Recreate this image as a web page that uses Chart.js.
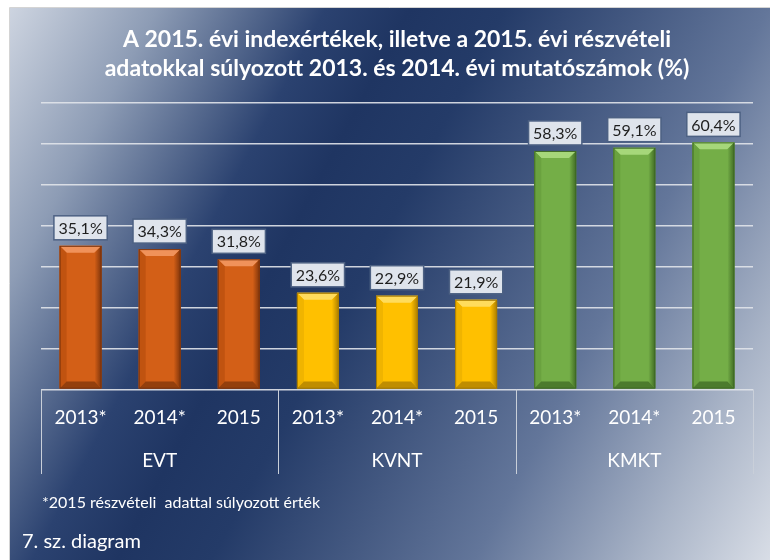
<!DOCTYPE html>
<html>
<head>
<meta charset="utf-8">
<script src="https://cdn.jsdelivr.net/npm/chart.js@4"></script>
<style>
  html, body { margin: 0; padding: 0; background: #ffffff; }
  #wrap { width: 770px; height: 560px; position: relative; }
</style>
</head>
<body>
<div id="wrap"><canvas id="c" width="770" height="560"></canvas></div>
<script>
// ---- data ----
const groups = ['EVT', 'KVNT', 'KMKT'];
const years = ['2013*', '2014*', '2015'];
const evtValues = [35.1, 34.3, 31.8];
const kvntValues = [23.6, 22.9, 21.9];
const kmktValues = [58.3, 59.1, 60.4];
const yTicks = [0, 10, 20, 30, 40, 50, 60, 70];
const titleLines = ['A 2015. évi indexértékek, illetve a 2015. évi részvételi',
                    'adatokkal súlyozott 2013. és 2014. évi mutatószámok (%)'];
const footnote = '*2015 részvételi  adattal súlyozott érték';
const diagramLabel = '7. sz. diagram';

// ---- styles ----
const palette = {
  EVT:  { main: '#d35f17', light: '#f0925a', dark: '#7e340b', side: '#c05310' },
  KVNT: { main: '#ffc000', light: '#ffdc5c', dark: '#a97c00', side: '#f0b400' },
  KMKT: { main: '#74ae47', light: '#a6d77a', dark: '#3f6a24', side: '#6aa23f' }
};
const FONT = 'Lato, "Open Sans", "Liberation Sans", sans-serif';

const groupValues = [evtValues, kvntValues, kmktValues];
const labels = [];
const values = [];
const colorSets = [];
groups.forEach((g, gi) => {
  years.forEach((y, yi) => {
    labels.push(y);
    values.push(groupValues[gi][yi]);
    colorSets.push(palette[g]);
  });
});

const fmt = v => v.toFixed(1).replace('.', ',') + '%';

const bgPlugin = {
  id: 'bg',
  beforeDraw(chart) {
    const ctx = chart.ctx;
    const W = chart.width, H = chart.height;
    ctx.save();
    ctx.fillStyle = '#ffffff';
    ctx.fillRect(0, 0, W, H);
    const x0 = 10, y0 = 8;
    const ang = 28 * Math.PI / 180;
    const L = (W - x0) * Math.cos(ang) + (H - y0) * Math.sin(ang);
    const g = ctx.createLinearGradient(x0, y0, x0 + L * Math.cos(ang), y0 + L * Math.sin(ang));
    g.addColorStop(0.0, '#cdd4e0');
    g.addColorStop(0.14, '#8d9cb5');
    g.addColorStop(0.30, '#2b4270');
    g.addColorStop(0.38, '#1f3562');
    g.addColorStop(0.47, '#243b68');
    g.addColorStop(0.72, '#63769a');
    g.addColorStop(0.88, '#a9b4c7');
    g.addColorStop(1.0, '#d8dde6');
    ctx.fillStyle = g;
    ctx.fillRect(x0, y0, W - x0, H - y0);
    ctx.strokeStyle = '#d4d4d4';
    ctx.lineWidth = 1;
    ctx.beginPath();
    ctx.moveTo(x0 - 0.5, H);
    ctx.lineTo(x0 - 0.5, y0 - 0.5);
    ctx.lineTo(W, y0 - 0.5);
    ctx.stroke();
    ctx.restore();
  }
};

const bevelPlugin = {
  id: 'bevel',
  afterDatasetsDraw(chart) {
    const ctx = chart.ctx;
    const meta = chart.getDatasetMeta(0);
    meta.data.forEach((bar, i) => {
      const c = colorSets[i];
      const p = bar.getProps(['x', 'y', 'base', 'width'], true);
      const l = p.x - p.width / 2, r = p.x + p.width / 2;
      const t = p.y, b = p.base;
      const bv = 7;
      ctx.save();
      // top bevel
      ctx.fillStyle = c.light;
      ctx.beginPath();
      ctx.moveTo(l, t); ctx.lineTo(r, t); ctx.lineTo(r - bv, t + bv); ctx.lineTo(l + bv, t + bv); ctx.closePath(); ctx.fill();
      // right bevel
      const gr = ctx.createLinearGradient(r - bv, 0, r, 0);
      gr.addColorStop(0, c.main);
      gr.addColorStop(1, c.dark);
      ctx.fillStyle = gr;
      ctx.beginPath();
      ctx.moveTo(r, t); ctx.lineTo(r, b); ctx.lineTo(r - bv, b - bv); ctx.lineTo(r - bv, t + bv); ctx.closePath(); ctx.fill();
      // left bevel
      ctx.fillStyle = c.side;
      ctx.beginPath();
      ctx.moveTo(l, t); ctx.lineTo(l + bv, t + bv); ctx.lineTo(l + bv, b - bv); ctx.lineTo(l, b); ctx.closePath(); ctx.fill();
      // bottom bevel
      ctx.fillStyle = c.dark;
      ctx.globalAlpha = 0.75;
      ctx.beginPath();
      ctx.moveTo(l, b); ctx.lineTo(l + bv, b - bv); ctx.lineTo(r - bv, b - bv); ctx.lineTo(r, b); ctx.closePath(); ctx.fill();
      ctx.globalAlpha = 1;
      // outline
      ctx.strokeStyle = c.dark;
      ctx.lineWidth = 1;
      ctx.strokeRect(l + 0.5, t + 0.5, r - l - 1, b - t - 1);
      ctx.restore();

      // value label box
      const txt = fmt(values[i]);
      ctx.save();
      ctx.font = '16px ' + FONT;
      const tw = ctx.measureText(txt).width;
      const bw = tw + 9, bh = 24;
      const bx = p.x - bw / 2, by = t - 6 - bh;
      ctx.fillStyle = '#dfe4ec';
      ctx.fillRect(bx, by, bw, bh);
      ctx.strokeStyle = '#4d6183';
      ctx.lineWidth = 1.5;
      ctx.strokeRect(bx, by, bw, bh);
      ctx.fillStyle = '#1e1e1e';
      ctx.textAlign = 'center';
      ctx.textBaseline = 'middle';
      ctx.fillText(txt, p.x, by + bh / 2 + 1);
      ctx.restore();
    });
  }
};

const sepPlugin = {
  id: 'sep',
  afterDraw(chart) {
    const ctx = chart.ctx;
    const xs = chart.scales.x, x2 = chart.scales.x2;
    const n = years.length;
    const bounds = [];
    for (let k = 0; k <= labels.length; k += n) {
      let px;
      if (k === 0) px = xs.left;
      else if (k === labels.length) px = xs.right;
      else px = (xs.getPixelForValue(k - 1) + xs.getPixelForValue(k)) / 2;
      bounds.push(px);
    }
    ctx.save();
    ctx.strokeStyle = '#c9cfd9';
    ctx.lineWidth = 1;
    bounds.forEach(px => {
      const xx = Math.round(px) + 0.5;
      ctx.beginPath();
      ctx.moveTo(xx, chart.chartArea.bottom);
      ctx.lineTo(xx, x2.bottom);
      ctx.stroke();
    });
    // footnotes
    ctx.fillStyle = '#ffffff';
    ctx.textBaseline = 'middle';
    ctx.textAlign = 'left';
    ctx.font = '16px ' + FONT;
    ctx.fillText(footnote, 42, 503);
    ctx.font = '20px ' + FONT;
    ctx.fillText(diagramLabel, 22, 542);
    ctx.restore();
  }
};

new Chart(document.getElementById('c'), {
  type: 'bar',
  data: {
    labels: labels,
    datasets: [{
      data: values,
      backgroundColor: colorSets.map(c => c.main),
      borderWidth: 0,
      barPercentage: 0.53,
      categoryPercentage: 1.0
    }]
  },
  plugins: [bgPlugin, bevelPlugin, sepPlugin],
  options: {
    responsive: false,
    animation: false,
    layout: { padding: { left: 41, right: 17, top: 0, bottom: 86 } },
    plugins: {
      legend: { display: false },
      tooltip: { enabled: false },
      title: {
        display: true,
        text: titleLines,
        color: '#ffffff',
        font: { family: FONT, size: 23, weight: 'bold', lineHeight: 1.22 },
        padding: { top: 26, bottom: 21 }
      }
    },
    scales: {
      y: {
        min: yTicks[0],
        max: yTicks[yTicks.length - 1],
        afterBuildTicks: s => { s.ticks = yTicks.map(v => ({ value: v })); },
        ticks: { display: false },
        grid: { color: 'rgba(225,228,234,0.9)', lineWidth: 1.5, drawTicks: false },
        border: { display: false }
      },
      x: {
        grid: { display: false, drawTicks: false },
        border: { display: false },
        ticks: {
          color: '#ffffff',
          padding: 18,
          maxRotation: 0,
          autoSkip: false,
          font: { family: FONT, size: 19, lineHeight: 1.14 }
        }
      },
      x2: {
        type: 'category',
        position: 'bottom',
        labels: groups,
        offset: true,
        grid: { display: false, drawTicks: false },
        border: { display: false },
        ticks: {
          color: '#ffffff',
          padding: 4,
          maxRotation: 0,
          font: { family: FONT, size: 19, lineHeight: 1.0 }
        }
      }
    }
  }
});
</script>
</body>
</html>
